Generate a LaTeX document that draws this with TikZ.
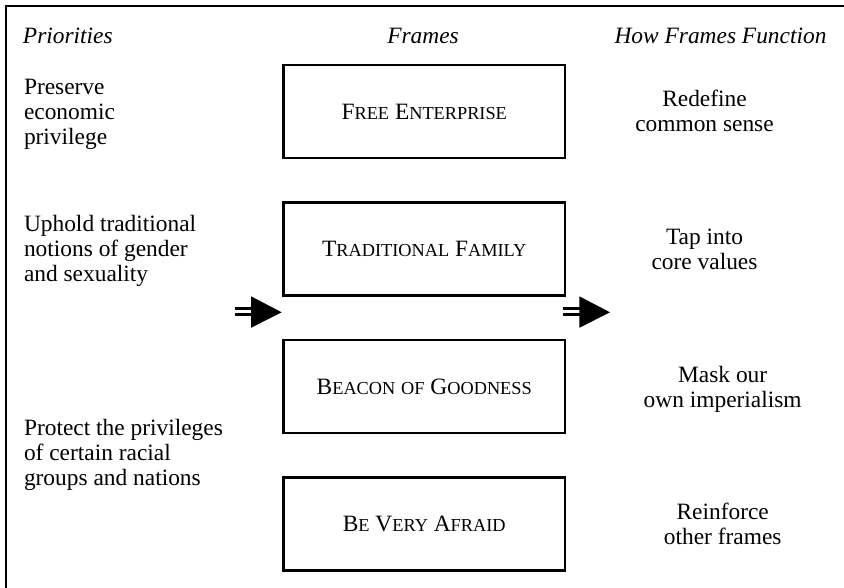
\documentclass[tikz,border=0pt]{standalone}
\usepackage{fontspec}
\setmainfont{Liberation Serif}
\newcommand\fsc[2]{#1{\fontsize{18.3}{20}\selectfont #2}}
\begin{document}
\begin{tikzpicture}[x=1pt,y=-1pt,
  every node/.style={font=\fontsize{23.4}{25}\selectfont, inner sep=0pt, outer sep=0pt},
  framebox/.style={draw, line width=2.5pt, minimum width=281.5pt, minimum height=93pt},
  lefttext/.style={anchor=base west, align=left},
  righttext/.style={anchor=base, align=center},
  head/.style={anchor=base, font=\fontsize{23.4}{25}\selectfont\itshape},
  shaft/.style={line width=3pt},
]
\useasboundingbox (0,0) rectangle (844,588);
\draw[line width=2.5pt] (6,588) -- (6,6) -- (844,6);

% headers
\node[head, anchor=base west] (hp) at (23,44) {Priorities};
\node[head] (hf) at (423,44) {Frames};
\node[head] (hh) at (720.5,44) {How Frames Function};

% left column (anchored at the baseline of the last line)
\node[lefttext] (p1) at (24,145) {Preserve\\economic\\privilege};
\node[lefttext] (p2) at (24,282) {Uphold traditional\\notions of gender\\and sexuality};
\node[lefttext] (p3) at (24,485) {Protect the privileges\\of certain racial\\groups and nations};

% frames
\node[framebox] (f1) at (424.25,111.5) {\fsc{F}{REE} \fsc{E}{NTERPRISE}};
\node[framebox] (f2) at (424.25,249.2) {\fsc{T}{RADITIONAL} \fsc{F}{AMILY}};
\node[framebox] (f3) at (424.25,386.7) {\fsc{B}{EACON} {\fontsize{18.3}{20}\selectfont OF} \fsc{G}{OODNESS}};
\node[framebox] (f4) at (424.25,524) {\fsc{B}{E} \fsc{V}{ERY} \fsc{A}{FRAID}};

% right column (anchored at the baseline of the last line)
\node[righttext] (r1) at (704.5,132) {Redefine\\common sense};
\node[righttext] (r2) at (704.5,269.5) {Tap into\\core values};
\node[righttext] (r3) at (722.7,407.5) {Mask our\\own imperialism};
\node[righttext] (r4) at (722.7,544) {Reinforce\\other frames};

% arrows
\coordinate (lt) at (281.7,312.3);
\coordinate (rt) at (610,312.3);
\foreach \t in {lt,rt}{
  \fill (\t) -- ([shift={(-30.7,-16)}]\t) -- ([shift={(-30.7,15.5)}]\t) -- cycle;
  \draw[shaft] ([shift={(-46.7,-4)}]\t) -- ([shift={(-29,-4)}]\t);
  \draw[shaft] ([shift={(-46.7,2.7)}]\t) -- ([shift={(-29,2.7)}]\t);
}
\end{tikzpicture}
\end{document}
